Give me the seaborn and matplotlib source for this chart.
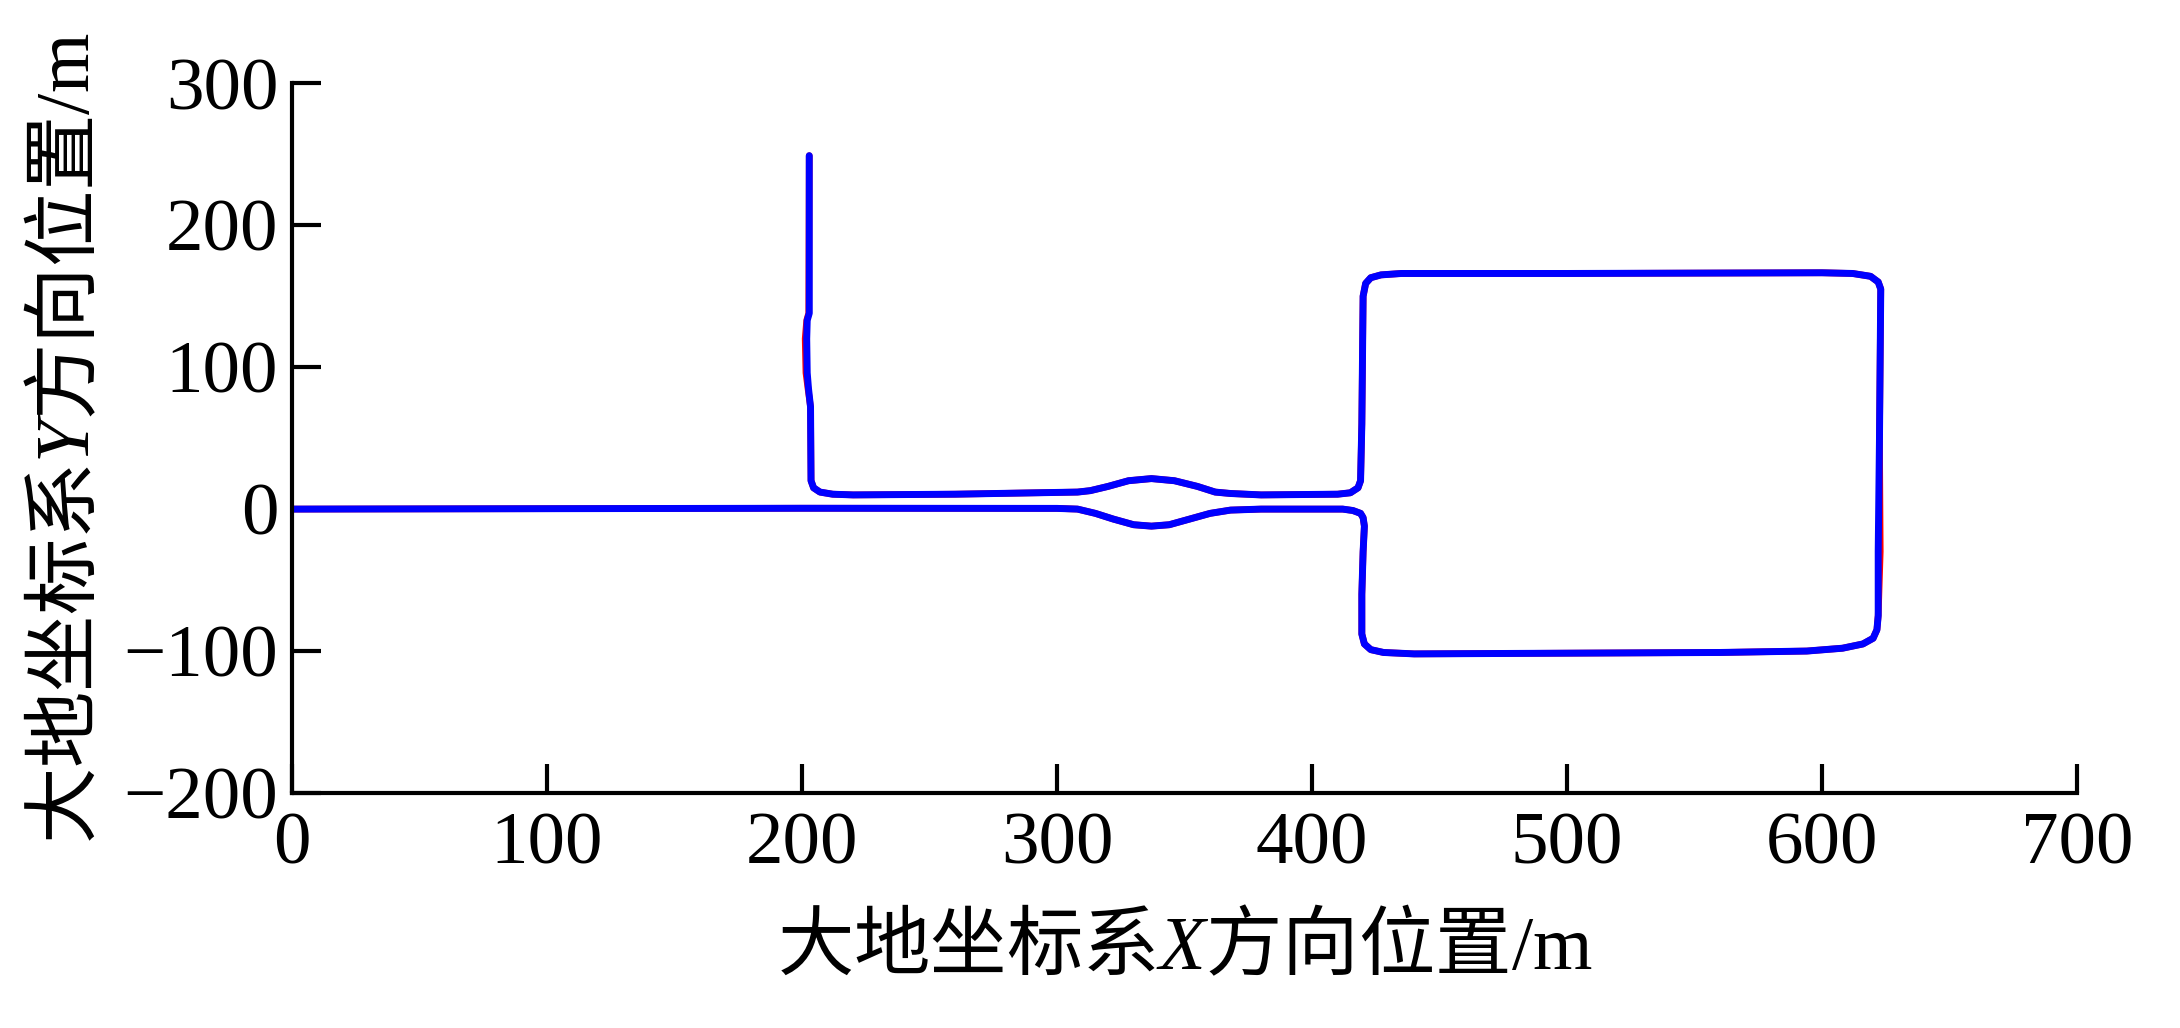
import matplotlib
matplotlib.use("Agg")
import matplotlib.pyplot as plt
import seaborn as sns
import pandas as pd

# tracked path (blue)
pos_x = [0, 100, 200, 300, 308, 315, 322, 330, 337, 344, 352, 360, 368, 380, 412, 416, 419, 420, 420.5,
         420, 419.5, 419.5, 420.5, 423, 428, 440, 500, 560, 594, 608, 616, 620, 621.5, 622, 622, 622.5,
         623, 622, 619, 612, 600, 500, 435, 427, 423, 421, 420, 419.5, 419, 418, 415, 410, 380, 368, 362,
         355, 346, 337, 328, 320, 313, 308, 260, 220, 212, 207, 204.5, 203.5, 203.3, 202.5, 202, 201.8,
         202, 202.8, 202.8]
pos_y = [0, 0.3, 0.6, 0.5, 0, -3, -7, -11, -12, -11, -7, -3, -0.7, 0, 0, -1, -3, -6, -12,
         -30, -60, -88, -95, -99, -101, -102, -101.5, -101, -100, -98, -95, -91, -85, -75, -30, 50,
         155, 160, 164, 166, 166.5, 166, 166, 165, 163, 159, 150, 60, 20, 15, 11.5, 10.5, 10, 11, 12,
         16, 20, 21.5, 20, 16, 13, 12, 10.5, 10, 10.5, 12, 15, 20, 72, 85, 96, 120,
         133, 138, 249]

# reference path (red), almost fully covered by the tracked path
ref_x = [0, 100, 200, 300, 308, 315, 322, 330, 337, 344, 352, 360, 368, 380, 412, 416, 419, 420, 420.5,
         420, 419.5, 419.5, 420.5, 423, 428, 440, 500, 560, 594, 608, 616, 620, 621.5, 622, 622.8, 622.5,
         623, 622, 619, 612, 600, 500, 435, 427, 423, 421, 420, 419.5, 419, 418, 415, 410, 380, 368, 362,
         355, 346, 337, 328, 320, 313, 308, 260, 220, 212, 207, 204.5, 203.5, 203.3, 202.3, 201.5, 201.2,
         201.8, 202.6, 202.8]
ref_y = pos_y

x_ticks = [0, 100, 200, 300, 400, 500, 600, 700]
y_ticks = [-200, -100, 0, 100, 200, 300]

sns.set_theme(style="ticks")
plt.rcParams['font.family'] = ['Liberation Serif', 'Noto Sans CJK SC']
plt.rcParams['mathtext.fontset'] = 'custom'
plt.rcParams['mathtext.it'] = 'Liberation Serif:italic'
plt.rcParams['mathtext.rm'] = 'Liberation Serif'
plt.rcParams['mathtext.sf'] = 'Liberation Serif'
plt.rcParams['axes.unicode_minus'] = True
plt.rcParams['text.color'] = 'black'
plt.rcParams['axes.labelcolor'] = 'black'

fig = plt.figure(figsize=(21.8, 10.28), dpi=100)
ax = fig.add_axes([0.134, 0.2286, 0.8188, 0.6904])

ref = pd.DataFrame({"x": ref_x, "y": ref_y})
pos = pd.DataFrame({"x": pos_x, "y": pos_y})
sns.lineplot(data=ref, x="x", y="y", sort=False, estimator=None, color="#ff0000", lw=4.8, ax=ax)
sns.lineplot(data=pos, x="x", y="y", sort=False, estimator=None, color="#0000ff", lw=5.0, ax=ax)

ax.set_xlim(0, 700)
ax.set_ylim(-200, 300)
ax.set_xticks(x_ticks)
ax.set_yticks(y_ticks)
ax.tick_params(direction="in", length=21, width=3, labelsize=54, colors="black")
ax.tick_params(axis="x", pad=14)
ax.tick_params(axis="y", pad=10)
for s in ["top", "right"]:
    ax.spines[s].set_visible(False)
for s in ["left", "bottom"]:
    ax.spines[s].set_linewidth(3)
    ax.spines[s].set_color("black")

ax.set_xlabel(r"大地坐标系$X$方向位置$\mathsf{/m}$", fontsize=55, labelpad=20,
              fontfamily="Noto Sans CJK SC")
ax.set_ylabel(r"大地坐标系$Y$方向位置$\mathsf{/m}$", fontsize=55, labelpad=12,
              fontfamily="Noto Sans CJK SC")

fig.savefig("out.png", dpi=100, facecolor="white")
